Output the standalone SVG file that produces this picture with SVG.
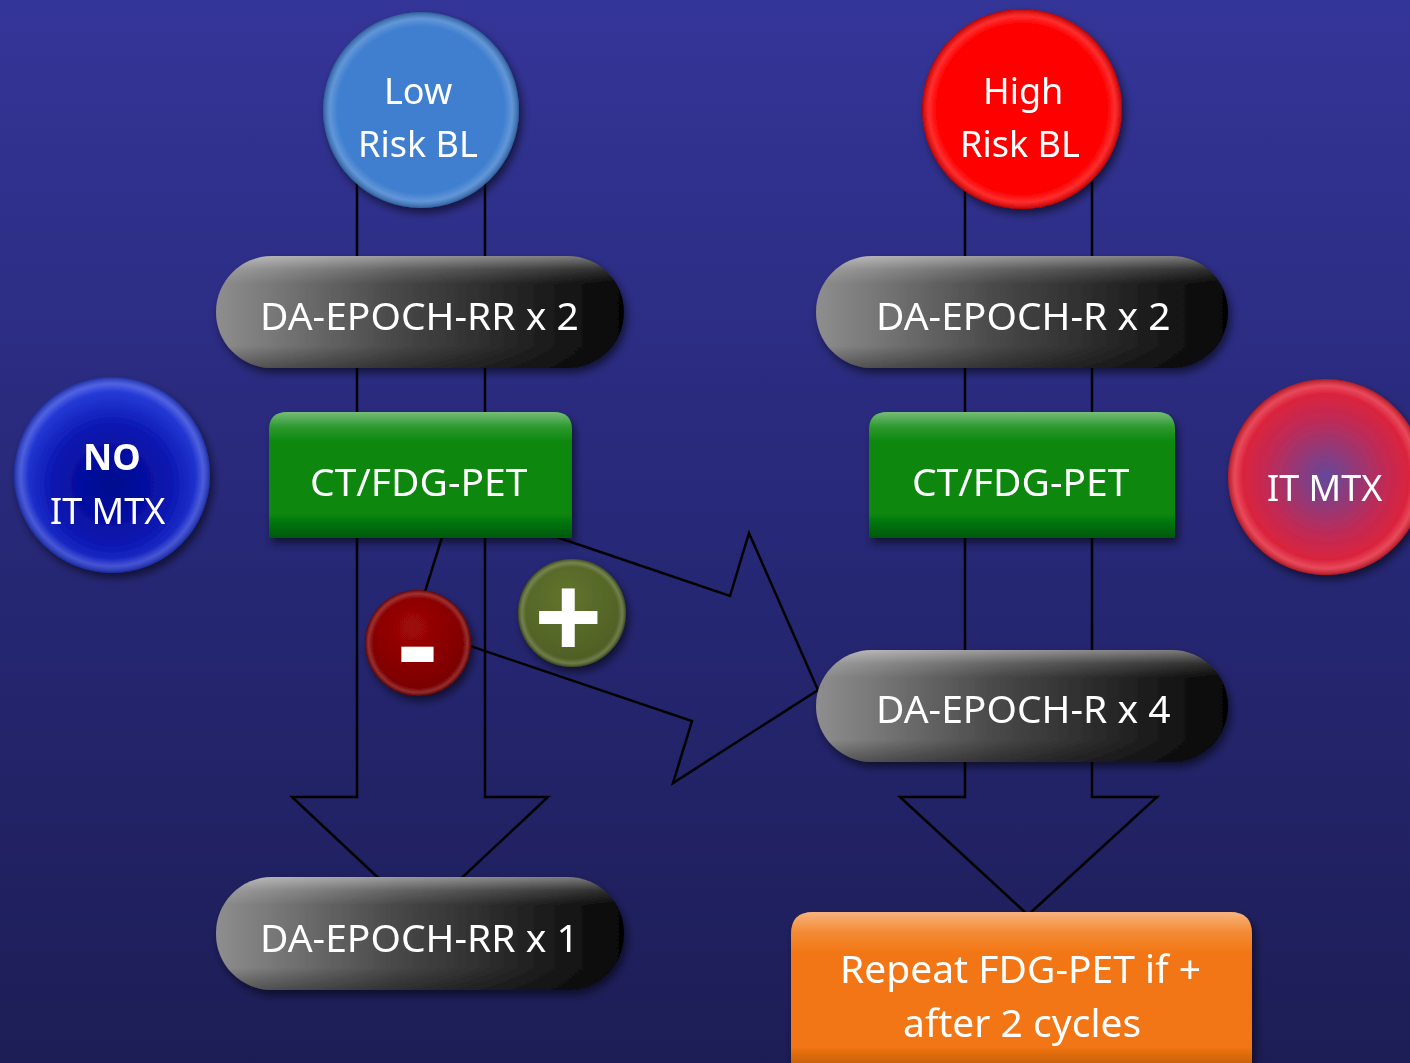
<svg xmlns="http://www.w3.org/2000/svg" width="1410" height="1063" viewBox="0 0 1410 1063">
  <defs>
    <linearGradient id="bg" x1="0" y1="0" x2="0" y2="1">
      <stop offset="0" stop-color="#343598"/>
      <stop offset="0.5" stop-color="#272877"/>
      <stop offset="1" stop-color="#1d1d56"/>
    </linearGradient>
    <linearGradient id="pillFill" x1="0" y1="0" x2="1" y2="0">
      <stop offset="0" stop-color="#8e8e8e"/>
      <stop offset="0.45" stop-color="#474747"/>
      <stop offset="1" stop-color="#050505"/>
    </linearGradient>
    <linearGradient id="bevel" x1="0" y1="0" x2="0" y2="1">
      <stop offset="0" stop-color="#ffffff" stop-opacity="0.45"/>
      <stop offset="0.12" stop-color="#ffffff" stop-opacity="0.15"/>
      <stop offset="0.25" stop-color="#ffffff" stop-opacity="0"/>
      <stop offset="0.8" stop-color="#000000" stop-opacity="0"/>
      <stop offset="1" stop-color="#000000" stop-opacity="0.35"/>
    </linearGradient>
    <radialGradient id="ballBevel" cx="0.5" cy="0.5" r="0.5">
      <stop offset="0.85" stop-color="#ffffff" stop-opacity="0"/>
      <stop offset="0.93" stop-color="#ffffff" stop-opacity="0.18"/>
      <stop offset="1" stop-color="#000000" stop-opacity="0.25"/>
    </radialGradient>
    <radialGradient id="noFill" cx="0.5" cy="0.55" r="0.5">
      <stop offset="0" stop-color="#00078c"/>
      <stop offset="0.6" stop-color="#0a16b0"/>
      <stop offset="1" stop-color="#2a40dc"/>
    </radialGradient>
    <radialGradient id="itFill" cx="0.5" cy="0.5" r="0.5">
      <stop offset="0" stop-color="#64489a"/>
      <stop offset="0.6" stop-color="#c02a55"/>
      <stop offset="1" stop-color="#ea2030"/>
    </radialGradient>
    <radialGradient id="minusFill" cx="0.45" cy="0.35" r="0.6">
      <stop offset="0" stop-color="#a00808"/>
      <stop offset="1" stop-color="#7a0000"/>
    </radialGradient>
    <radialGradient id="plusFill" cx="0.45" cy="0.35" r="0.6">
      <stop offset="0" stop-color="#62742e"/>
      <stop offset="1" stop-color="#4f5f24"/>
    </radialGradient>
    <filter id="shadow" x="-20%" y="-20%" width="140%" height="150%">
      <feDropShadow dx="3" dy="5" stdDeviation="4" flood-color="#000000" flood-opacity="0.55"/>
    </filter>
    <style>
      .t { font-family: "Noto Sans", "Open Sans", "Liberation Sans", sans-serif; fill: #ffffff; }
      .big { font-size: 39px; }
      .mid { font-size: 36px; }
      .b { font-weight: bold; }
      .conn { fill: none; stroke: #000000; stroke-width: 2.5; stroke-linejoin: miter; }
      .bev { fill: url(#bevel); }
      .ballbev { fill: url(#ballBevel); }
    </style>
  </defs>

  <rect x="0" y="0" width="1410" height="1063" fill="url(#bg)"/>

  <g id="connectors">
    <path class="conn" d="M357,150 V797 H292 L420,917 L548,797 H485 V150"/>
    <path class="conn" d="M965,150 V797 H900 L1028,915 L1157,797 H1092 V150"/>
    <polygon class="conn" points="453,502 730,596 749,533 818,690 673,783 692,721 414,627"/>
  </g>

  <g id="low-risk" filter="url(#shadow)">
    <circle cx="421" cy="110" r="98" fill="#3f7fcf"/>
    <circle cx="421" cy="110" r="98" class="ballbev"/>
    <text class="t mid" x="384" y="104">Low</text>
    <text class="t mid" x="358" y="157">Risk BL</text>
  </g>

  <g id="high-risk" filter="url(#shadow)">
    <circle cx="1022" cy="109" r="100" fill="#fe0000"/>
    <circle cx="1022" cy="109" r="100" class="ballbev"/>
    <text class="t mid" x="983" y="104">High</text>
    <text class="t mid" x="960" y="157">Risk BL</text>
  </g>

  <g id="pill-rr2" filter="url(#shadow)">
    <rect x="216" y="256" width="408" height="112" rx="56" fill="url(#pillFill)"/>
    <rect x="216" y="256" width="408" height="112" rx="56" class="bev"/>
    <text class="t big" x="260" y="330">DA-EPOCH-RR x 2</text>
  </g>

  <g id="pill-r2" filter="url(#shadow)">
    <rect x="816" y="256" width="412" height="112" rx="56" fill="url(#pillFill)"/>
    <rect x="816" y="256" width="412" height="112" rx="56" class="bev"/>
    <text class="t big" x="876" y="330">DA-EPOCH-R x 2</text>
  </g>

  <g id="no-itmtx" filter="url(#shadow)">
    <circle cx="112" cy="475" r="98" fill="url(#noFill)"/>
    <circle cx="112" cy="475" r="98" class="ballbev"/>
    <text class="t b mid" x="83" y="470">NO</text>
    <text class="t mid" x="50" y="524">IT MTX</text>
  </g>

  <g id="ct-pet-left" filter="url(#shadow)">
    <path d="M269,538 V430 Q269,412 287,412 H554 Q572,412 572,430 V538 Z" fill="#07870a"/>
    <path d="M269,538 V430 Q269,412 287,412 H554 Q572,412 572,430 V538 Z" class="bev"/>
    <text class="t big" x="310" y="496">CT/FDG-PET</text>
  </g>

  <g id="ct-pet-right" filter="url(#shadow)">
    <path d="M869,538 V430 Q869,412 887,412 H1157 Q1175,412 1175,430 V538 Z" fill="#07870a"/>
    <path d="M869,538 V430 Q869,412 887,412 H1157 Q1175,412 1175,430 V538 Z" class="bev"/>
    <text class="t big" x="912" y="496">CT/FDG-PET</text>
  </g>

  <g id="it-mtx" filter="url(#shadow)">
    <circle cx="1326" cy="477" r="98" fill="url(#itFill)"/>
    <circle cx="1326" cy="477" r="98" class="ballbev"/>
    <text class="t mid" x="1267" y="501">IT MTX</text>
  </g>

  <g id="minus" filter="url(#shadow)">
    <circle cx="418" cy="643" r="53" fill="url(#minusFill)"/>
    <circle cx="418" cy="643" r="53" class="ballbev"/>
    <text class="t b" x="398" y="687" font-size="122">-</text>
  </g>

  <g id="plus" filter="url(#shadow)">
    <circle cx="572" cy="613" r="54" fill="url(#plusFill)"/>
    <circle cx="572" cy="613" r="54" class="ballbev"/>
    <text class="t b" x="534" y="660" font-size="120">+</text>
  </g>

  <g id="pill-r4" filter="url(#shadow)">
    <rect x="816" y="650" width="412" height="112" rx="56" fill="url(#pillFill)"/>
    <rect x="816" y="650" width="412" height="112" rx="56" class="bev"/>
    <text class="t big" x="876" y="723">DA-EPOCH-R x 4</text>
  </g>

  <g id="pill-rr1" filter="url(#shadow)">
    <rect x="216" y="877" width="408" height="113" rx="56" fill="url(#pillFill)"/>
    <rect x="216" y="877" width="408" height="113" rx="56" class="bev"/>
    <text class="t big" x="260" y="952">DA-EPOCH-RR x 1</text>
  </g>

  <g id="repeat-pet" filter="url(#shadow)">
    <path d="M791,1080 V934 Q791,912 813,912 H1230 Q1252,912 1252,934 V1080 Z" fill="#f27612"/>
    <path d="M791,1080 V934 Q791,912 813,912 H1230 Q1252,912 1252,934 V1080 Z" class="bev"/>
    <text class="t big" x="840" y="983">Repeat FDG-PET if +</text>
    <text class="t big" x="903" y="1037">after 2 cycles</text>
  </g>
</svg>
